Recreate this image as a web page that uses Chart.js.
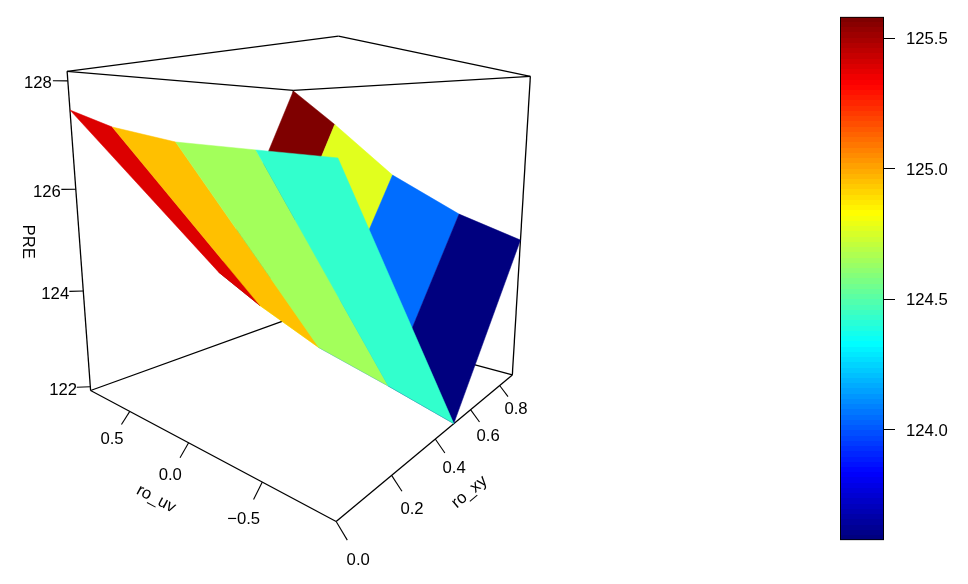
<!DOCTYPE html>
<html><head><meta charset="utf-8">
<style>html,body{margin:0;background:#fff}canvas{position:absolute;top:0}#surface{left:0}#bar{left:800px}</style>
<script src="https://cdn.jsdelivr.net/npm/chart.js@4"></script>
</head><body>
<canvas id="surface" width="968" height="584"></canvas>
<canvas id="bar" width="168" height="584"></canvas>
<script>
// ---- data ----
const roUv = [0.9, 0.5, 0, -0.5, -0.9];
const roXy = [0, 0.5, 0.9];
const preAtXy0 = [127.474, 127.157, 126.923, 126.837, 126.770];
const preAtXy5 = [123.734, 123.168, 122.585, 122.229, 121.920];
const preAtXy9 = [128.156, 127.272, 126.078, 125.300, 124.883];
const uvRange = [-0.9, 0.9];
const xyRange = [0, 0.9];
const zRange = [121.92, 128.17];
const uvTicks = [0.5, 0, -0.5];
const xyTicks = [0, 0.2, 0.4, 0.6, 0.8];
const zTicks = [122, 124, 126, 128];
const colorbarRange = [123.576, 125.583];
const colorbarTicks = [124, 124.5, 125, 125.5];
const jetAnchors = ['#00007F','#0000FF','#007FFF','#00FFFF','#7FFF7F','#FFFF00','#FF7F00','#FF0000','#7F0000'];
const levels = 100;

// ---- view: the perspective camera of the 3-D box ----
const cam = [[-93.71661, 457.14174, -6.03445, 180.91944],
             [31.14410, 76.03926, -66.25186, 264.28447],
             [0.23707, 0.56964, -0.01875, 1]];
function project(u, v, z) {
  const w = z - 125;
  const d = cam[2][0]*u + cam[2][1]*v + cam[2][2]*w + cam[2][3];
  return { x: (cam[0][0]*u + cam[0][1]*v + cam[0][2]*w + cam[0][3]) / d,
           y: (cam[1][0]*u + cam[1][1]*v + cam[1][2]*w + cam[1][3]) / d };
}
const span = r => r[1] - r[0];
const tickFrac = 0.03;
const dU = span(uvRange) * tickFrac, dV = span(xyRange) * tickFrac, dZ = span(zRange) * tickFrac;

// ---- colour map ----
function hex(c){return [1,3,5].map(i=>parseInt(c.substr(i,2),16));}
function jet(t){
  const p = t * (jetAnchors.length-1), i = Math.min(Math.floor(p), jetAnchors.length-2), f = p-i;
  const a = hex(jetAnchors[i]), b = hex(jetAnchors[i+1]);
  return 'rgb(' + a.map((x,k)=>Math.round(x+(b[k]-x)*f)).join(',') + ')';
}
function levelColor(val){
  const k = Math.max(0, Math.min(levels-1, Math.floor((val-colorbarRange[0])/span(colorbarRange)*levels)));
  return jet(k/(levels-1));
}

// ---- datasets for the surface chart ----
const rows = [preAtXy0, preAtXy5, preAtXy9];
const datasets = [];
function addLine(points, width){
  datasets.push({ data: points, showLine: true, fill: false, borderColor: '#000', borderWidth: width,
    pointRadius: 0, tension: 0, order: -datasets.length, clip: false });
}
const [u0, u1] = [uvRange[1], uvRange[0]], [v0, v1] = xyRange, [z0, z1] = zRange;
// box: floor, back verticals, lid
[[[u0,v0,z0],[u1,v0,z0]],[[u1,v0,z0],[u1,v1,z0]],[[u1,v1,z0],[u0,v1,z0]],[[u0,v1,z0],[u0,v0,z0]],
 [[u0,v0,z0],[u0,v0,z1]],[[u1,v1,z0],[u1,v1,z1]],[[u0,v1,z0],[u0,v1,z1]],
 [[u0,v0,z1],[u1,v0,z1]],[[u1,v0,z1],[u1,v1,z1]],[[u1,v1,z1],[u0,v1,z1]],[[u0,v1,z1],[u0,v0,z1]]]
 .forEach(e => addLine(e.map(p => project(...p)), 1.3));
// axis ticks
uvTicks.forEach(t => addLine([project(t,v0,z0), project(t,v0-dV,z0-dZ)], 1.1));
xyTicks.forEach(t => addLine([project(u1,t,z0), project(u1-dU,t,z0-dZ)], 1.1));
zTicks.forEach(t => addLine([project(u0,v0,t), project(u0+dU,v0-dV,t)], 1.1));
// facets, far strip first, then near strip
[[2,1],[0,1]].forEach(([rowA,rowB]) => {
  for (let i = 0; i < roUv.length-1; i++) {
    const corners = [[i,rowA],[i+1,rowA],[i+1,rowB],[i,rowB]];
    const mean = corners.reduce((s,[c,r]) => s + rows[r][c], 0) / 4;
    const col = levelColor(mean);
    const pts = corners.map(([c,r]) => project(roUv[c], roXy[r], rows[r][c]));
    pts.push(pts[0]);
    datasets.push({ data: pts, showLine: true, fill: 'shape', backgroundColor: col, borderColor: col,
      borderWidth: 0.5, pointRadius: 0, tension: 0, order: -datasets.length, clip: false });
  }
});

const font = '16.7px "Liberation Sans", Arial, sans-serif';
const axisText = {
  id: 'axisText',
  afterDatasetsDraw(chart) {
    const c = chart.ctx, sx = chart.scales.x, sy = chart.scales.y;
    const put = (txt, p, rot, ox, oy) => {
      c.save();
      c.translate(sx.getPixelForValue(p.x) + (ox||0), sy.getPixelForValue(p.y) + (oy||0));
      c.rotate((rot||0)*Math.PI/180);
      c.font = font; c.fillStyle = '#000'; c.textAlign = 'center'; c.textBaseline = 'middle';
      c.fillText(txt, 0, 0);
      c.restore();
    };
    const fmt = t => t.toFixed(1).replace('-', '\u2212');
    uvTicks.forEach(t => put(fmt(t), project(t, v0-2*dV, z0-2*dZ), 0, -1, 2));
    xyTicks.forEach(t => put(fmt(t), project(u1-2*dU, t, z0-2*dZ), 0, -0.5, 1.5));
    zTicks.forEach(t => put(String(t), project(u0+2*dU, v0-2*dV, t), 0, 0, 2.5));
    put('ro_uv', {x:156, y:499}, 28);
    put('ro_xy', {x:469.5, y:492}, -40);
    put('PRE', {x:28, y:241.7}, 90);
  }
};

new Chart(document.getElementById('surface'), {
  type: 'scatter',
  data: { datasets },
  plugins: [axisText],
  options: {
    responsive: false, animation: false, events: [],
    layout: { padding: 0 },
    plugins: { legend: { display: false }, tooltip: { enabled: false } },
    scales: {
      x: { type: 'linear', display: false, min: 0, max: 968 },
      y: { type: 'linear', display: false, min: 0, max: 584, reverse: true }
    }
  }
});

// ---- colour bar ----
new Chart(document.getElementById('bar'), {
  type: 'bar',
  data: {
    labels: ['PRE'],
    datasets: [{
      data: [colorbarRange],
      borderColor: '#000', borderWidth: 1.3, borderSkipped: false,
      barPercentage: 1, categoryPercentage: 1,
      backgroundColor(ctx) {
        const a = ctx.chart.chartArea;
        if (!a) return '#000';
        const g = ctx.chart.ctx.createLinearGradient(0, a.bottom, 0, a.top);
        for (let k = 0; k < levels; k++) {
          const col = jet(k/(levels-1));
          g.addColorStop(k/levels, col);
          g.addColorStop((k+1)/levels, col);
        }
        return g;
      }
    }]
  },
  options: {
    responsive: false, animation: false, events: [],
    layout: { padding: { left: 40, top: 16.7, bottom: 43.7, right: 0 } },
    plugins: { legend: { display: false }, tooltip: { enabled: false } },
    scales: {
      x: { display: false },
      y: {
        position: 'right',
        min: colorbarRange[0], max: colorbarRange[1],
        afterBuildTicks(s) { s.ticks = colorbarTicks.map(v => ({ value: v })); },
        afterFit(s) { s.width = 84; s.paddingTop = 0; s.paddingBottom = 0; },
        border: { display: false },
        grid: { drawOnChartArea: false, drawTicks: true, tickLength: 11, color: '#000', lineWidth: 1 },
        ticks: { color: '#000', padding: 11, autoSkip: false, labelOffset: 1.5,
                 font: { family: '"Liberation Sans", Arial, sans-serif', size: 16.7 },
                 callback: v => Number(v).toFixed(1) }
      }
    }
  }
});
</script>
</body></html>
